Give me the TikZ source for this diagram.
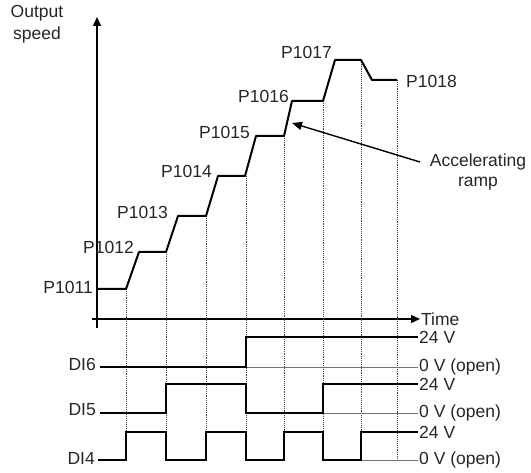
\documentclass[tikz,border=0pt]{standalone}
\usepackage{fontspec}
\setmainfont{Liberation Sans}
\usetikzlibrary{arrows.meta}
\begin{document}
\begin{tikzpicture}[x=1pt,y=-1pt,
  lbl/.style={inner sep=0pt,text=black!85,font=\fontsize{17.5}{20}\selectfont},
  sig/.style={line width=1.9pt,line join=miter},
  prof/.style={line width=2pt,line join=round},
  axis/.style={line width=1.4pt},
  guide/.style={line width=0.9pt,densely dotted,black!75},
  thin0/.style={line width=0.8pt,black!55}]
\useasboundingbox (0,0) rectangle (531,473);
% axes
\coordinate (yb) at (97,328);
\coordinate (yt) at (97,17);
\coordinate (xl) at (92,319);
\coordinate (xr) at (420,319);
\draw[axis,-{Triangle[length=9pt,width=8pt]}] (yb) -- (yt);
\draw[axis,-{Triangle[length=9pt,width=8pt]}] (xl) -- (xr);
\node[lbl,anchor=west] (time) at (421,319) {Time};
\node[lbl] (out) at (37,13) {Output};
\node[lbl] (spd) at (37,35) {speed};
% guide lines
\foreach \x/\y in {126/289,166/252,206/216,246/176,284/136,323/101,361/60,397/80}
  \draw[guide] (\x,\y) -- (\x,460);
% speed profile
\draw[prof] (97,289) -- (126,289) -- (139,252) -- (166,252) -- (178,216) -- (206,216)
  -- (218,176) -- (245,176) -- (256,136) -- (284,136) -- (292,101) -- (323,101)
  -- (335,60) -- (361,60) -- (372,80) -- (397,80);
\node[lbl,anchor=east] (p11) at (93,287) {P1011};
\node[lbl,anchor=east] (p12) at (134,247) {P1012};
\node[lbl,anchor=east] (p13) at (168,212) {P1013};
\node[lbl,anchor=east] (p14) at (212,171) {P1014};
\node[lbl,anchor=east] (p15) at (250,132) {P1015};
\node[lbl,anchor=east] (p16) at (289,96) {P1016};
\node[lbl,anchor=east] (p17) at (332,52) {P1017};
\node[lbl,anchor=west] (p18) at (406,81) {P1018};
% annotation
\node[lbl,align=center] (acc) at (478,172) {Accelerating\\ramp};
\coordinate (tail) at (420,162);
\coordinate (tip) at (292,123);
\draw[line width=1.4pt,-{Triangle[length=10pt,width=8pt]}] (tail) -- (tip);
% DI6
\draw[thin0] (246,367) -- (418,367);
\draw[sig] (100,367) -- (246,367) -- (246,337) -- (418,337);
\node[lbl,anchor=east] (di6) at (96,364) {DI6};
% DI5
\draw[thin0] (323,413) -- (418,413);
\draw[sig] (100,413) -- (166,413) -- (166,384) -- (246,384) -- (246,413) -- (323,413) -- (323,384) -- (418,384);
\node[lbl,anchor=east] (di5) at (96,410) {DI5};
% DI4
\draw[thin0] (361,460) -- (418,460);
\draw[sig] (98,460) -- (126,460) -- (126,432) -- (166,432) -- (166,460) -- (206,460) -- (206,432) -- (246,432) -- (246,460) -- (284,460) -- (284,432) -- (323,432) -- (323,460) -- (361,460) -- (361,432) -- (418,432);
\node[lbl,anchor=east] (di4) at (95,458) {DI4};
% voltage labels
\foreach \y/\t in {337/24 V,367/0 V (open),384/24 V,413/0 V (open),432/24 V,460/0 V (open)}
  \node[lbl,anchor=west] at (419,\y) {\t};
\end{tikzpicture}
\end{document}
